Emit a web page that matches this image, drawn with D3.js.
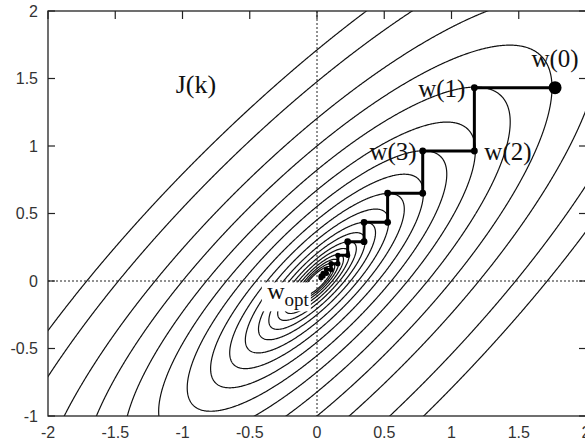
<!DOCTYPE html>
<html>
<head>
<meta charset="utf-8">
<script src="https://cdn.jsdelivr.net/npm/d3@7"></script>
<style>
  body { margin: 0; background: #fff; }
  svg { display: block; }
  .tick-label { font-family: "Liberation Sans", Arial, sans-serif; font-size: 16px; fill: #333; }
  .note { font-family: "Liberation Serif", "Times New Roman", serif; fill: #111; }
</style>
</head>
<body>
<div id="chart"></div>
<script>
// axis ticks
const xTicks = [-2, -1.5, -1, -0.5, 0, 0.5, 1, 1.5, 2];
const yTicks = [-1, -0.5, 0, 0.5, 1, 1.5, 2];

// cost surface J(w) = w1^2 - 2*rho*w1*w2 + w2^2, contour levels
const rho = 0.82;
const levels = [2.93, 2.18, 1.45, 1.0, 0.676, 0.454, 0.305, 0.205, 0.138, 0.093,
                0.062, 0.042, 0.028, 0.019, 0.0127, 0.0085, 0.0057, 0.0038];

// staircase of iterates w(0), w(1), ...
const pathX = [1.77, 1.17, 1.17, 0.786, 0.786, 0.525, 0.525, 0.35, 0.35, 0.228, 0.228,
               0.155, 0.155, 0.105, 0.105, 0.07, 0.07, 0.045, 0.045, 0.03, 0.03];
const pathY = [1.432, 1.432, 0.963, 0.963, 0.65, 0.65, 0.435, 0.435, 0.291, 0.291, 0.19,
               0.19, 0.128, 0.128, 0.085, 0.085, 0.057, 0.057, 0.037, 0.037, 0.025];

// labels on the first iterates: index, text, anchor, offset
const iterLabels = [
  { i: 0, text: "w(0)", anchor: "middle", dx: 0, dy: -21 },
  { i: 1, text: "w(1)", anchor: "end", dx: -9, dy: 9 },
  { i: 2, text: "w(2)", anchor: "start", dx: 10, dy: 9 },
  { i: 3, text: "w(3)", anchor: "end", dx: -6, dy: 9 }
];

const W = 585, H = 444;
const pL = 48, pR = 586, pT = 11, pB = 416;

const svg = d3.select('#chart').append('svg')
  .attr('width', W)
  .attr('height', H);

const x = d3.scaleLinear().domain([-2, 2]).range([pL, pR]);
const y = d3.scaleLinear().domain([-1, 2]).range([pB, pT]);

svg.append('clipPath').attr('id', 'plot')
  .append('rect')
  .attr('x', pL).attr('y', pT)
  .attr('width', pR - pL).attr('height', pB - pT);

// zero lines
const g = svg.append('g').attr('clip-path', 'url(#plot)');
g.append('line')
  .attr('x1', x(0)).attr('x2', x(0)).attr('y1', pT).attr('y2', pB)
  .attr('stroke', '#222').attr('stroke-width', 1).attr('stroke-dasharray', '2,2');
g.append('line')
  .attr('x1', pL).attr('x2', pR).attr('y1', y(0)).attr('y2', y(0))
  .attr('stroke', '#222').attr('stroke-width', 1).attr('stroke-dasharray', '2,2');

// contour grid, a bit larger than the plot so the edges get clipped away
const step = 0.006, gx0 = -2.1, gy0 = -1.1;
const n = Math.round(4.2 / step) + 1, m = Math.round(3.2 / step) + 1;
const values = new Float64Array(n * m);
for (let j = 0; j < m; j++) {
  for (let i = 0; i < n; i++) {
    const a = gx0 + i * step, b = gy0 + j * step;
    values[i + j * n] = a * a - 2 * rho * a * b + b * b;
  }
}
const contours = d3.contours().size([n, m]).thresholds(levels)(values);
const proj = d3.geoTransform({
  point: function(px, py) {
    this.stream.point(x(gx0 + (px - 0.5) * step), y(gy0 + (py - 0.5) * step));
  }
});
g.selectAll('path.contour')
  .data(contours)
  .join('path')
  .attr('class', 'contour')
  .attr('d', d3.geoPath(proj))
  .attr('fill', 'none')
  .attr('stroke', '#111')
  .attr('stroke-width', 1.2);

// frame
svg.append('rect')
  .attr('x', pL).attr('y', pT)
  .attr('width', pR - pL).attr('height', pB - pT)
  .attr('fill', 'none').attr('stroke', '#222').attr('stroke-width', 1.3);

// ticks (inward, gnuplot style)
svg.selectAll('line.ytl').data(yTicks).join('line')
  .attr('x1', pL).attr('x2', pL + 7)
  .attr('y1', d => y(d)).attr('y2', d => y(d))
  .attr('stroke', '#222').attr('stroke-width', 1.2);
svg.selectAll('line.ytr').data(yTicks).join('line')
  .attr('x1', pR).attr('x2', pR - 7)
  .attr('y1', d => y(d)).attr('y2', d => y(d))
  .attr('stroke', '#222').attr('stroke-width', 1.2);
svg.selectAll('line.xtt').data(xTicks).join('line')
  .attr('x1', d => x(d)).attr('x2', d => x(d))
  .attr('y1', pT).attr('y2', pT + 8)
  .attr('stroke', '#222').attr('stroke-width', 1.2);

svg.selectAll('text.yl').data(yTicks).join('text')
  .attr('class', 'tick-label')
  .attr('x', pL - 10).attr('y', d => y(d))
  .attr('dy', '0.35em')
  .attr('text-anchor', 'end')
  .text(d => d);
svg.selectAll('text.xl').data(xTicks).join('text')
  .attr('class', 'tick-label')
  .attr('x', d => x(d)).attr('y', pB + 16)
  .attr('dy', '0.35em')
  .attr('text-anchor', 'middle')
  .text(d => d);

// iterate path
const pts = pathX.map((v, k) => [v, pathY[k]]);
svg.append('path')
  .attr('d', d3.line().x(d => x(d[0])).y(d => y(d[1]))(pts))
  .attr('fill', 'none').attr('stroke', '#000').attr('stroke-width', 3);
svg.selectAll('circle.pt').data(pts).join('circle')
  .attr('cx', d => x(d[0])).attr('cy', d => y(d[1]))
  .attr('r', (d, k) => k === 0 ? 6.5 : (k < 10 ? 3.4 : 2.6))
  .attr('fill', '#000');

// labels
svg.selectAll('text.iter').data(iterLabels).join('text')
  .attr('class', 'note')
  .attr('x', d => x(pathX[d.i]) + d.dx)
  .attr('y', d => y(pathY[d.i]) + d.dy)
  .attr('text-anchor', d => d.anchor)
  .attr('font-size', 25)
  .text(d => d.text);

svg.append('text').attr('class', 'note')
  .attr('x', x(-0.9)).attr('y', y(1.39))
  .attr('text-anchor', 'middle')
  .attr('font-size', 26)
  .text('J(k)');

svg.append('rect')
  .attr('x', x(-0.41)).attr('y', y(-0.01))
  .attr('width', 49).attr('height', 29)
  .attr('fill', '#fff');
const wopt = svg.append('text').attr('class', 'note')
  .attr('x', x(-0.37)).attr('y', y(-0.13))
  .attr('font-size', 24);
wopt.append('tspan').text('w');
wopt.append('tspan').attr('dy', 7).attr('font-size', 19).text('opt');
</script>
</body>
</html>
